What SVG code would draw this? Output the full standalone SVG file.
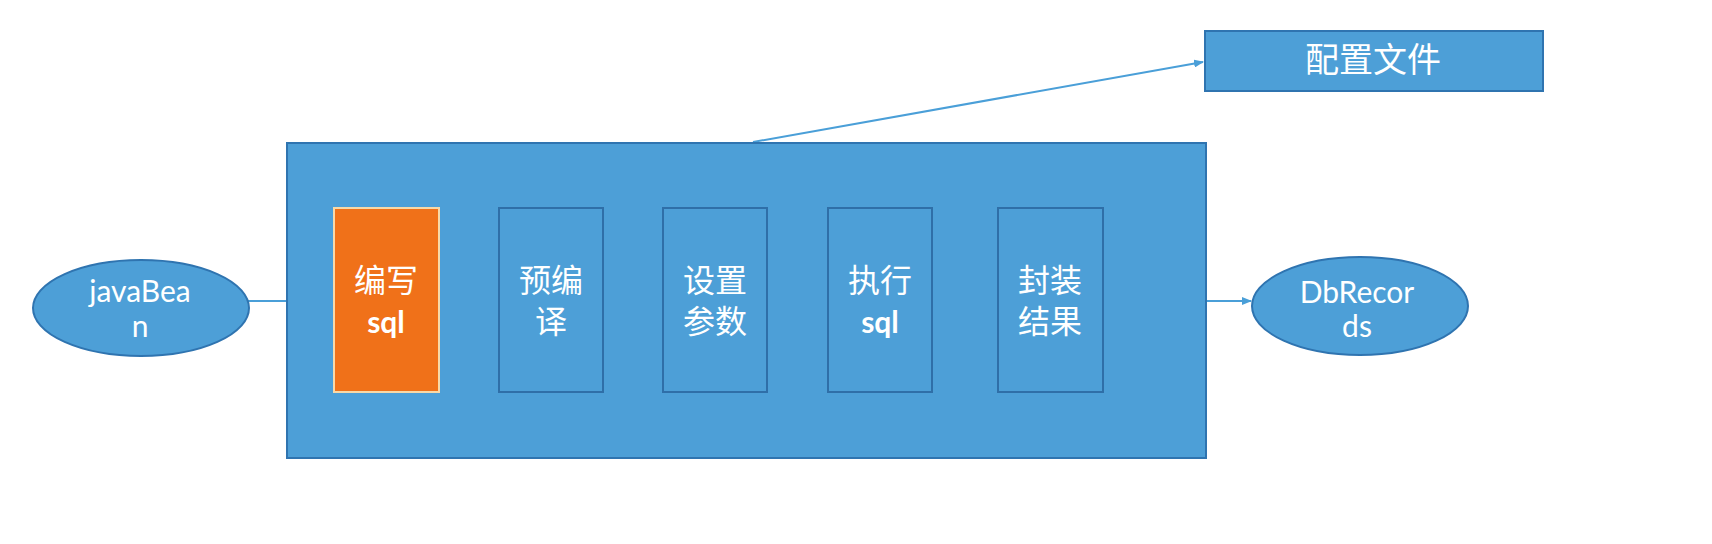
<svg xmlns="http://www.w3.org/2000/svg" width="1712" height="544" viewBox="0 0 1712 544">
<defs>
<marker id="arr" markerWidth="10" markerHeight="8" refX="9" refY="4" orient="auto" markerUnits="userSpaceOnUse">
<path d="M0,0 L10,4 L0,8 Z" fill="#4a9fd8"/>
</marker>
<style>
.blue{fill:#4d9fd7;stroke:#2f74b0;stroke-width:2}
.inner{fill:#4d9fd7;stroke:#2f6fa8;stroke-width:2}
.orange{fill:#f07119;stroke:#f8d9a8;stroke-width:2}
.cjk{font-family:"Noto Sans CJK SC",sans-serif;font-size:32px;fill:#ffffff;text-anchor:middle}
.lat{font-family:"Lato","Open Sans",sans-serif;font-size:30px;fill:#ffffff;text-anchor:middle}
.sql{font-family:"Lato","Open Sans",sans-serif;font-size:30px;font-weight:bold;fill:#ffffff;text-anchor:middle}
.conn{stroke:#4a9fd8;stroke-width:2;fill:none}
</style>
</defs>
<rect width="1712" height="544" fill="#ffffff"/>
<g id="connectors">
<line class="conn" x1="248" y1="301" x2="287" y2="301"/>
<line class="conn" x1="1206" y1="301" x2="1251" y2="301" marker-end="url(#arr)"/>
<line class="conn" x1="753" y1="142" x2="1203" y2="62" marker-end="url(#arr)"/>
</g>
<g id="main">
<rect class="blue" x="287" y="143" width="919" height="315"/>
</g>
<g id="config">
<rect class="blue" x="1205" y="31" width="338" height="60"/>
<text class="cjk" x="1373" y="72" style="font-size:34px">配置文件</text>
</g>
<g id="javabean">
<ellipse class="blue" cx="141" cy="308" rx="108" ry="48"/>
<text class="lat" x="140" y="302">javaBea</text>
<text class="lat" x="140" y="337">n</text>
</g>
<g id="dbrecords">
<ellipse class="blue" cx="1360" cy="306" rx="108" ry="49"/>
<text class="lat" x="1357" y="303">DbRecor</text>
<text class="lat" x="1357" y="337">ds</text>
</g>
<g id="step1">
<rect class="orange" x="334" y="208" width="105" height="184"/>
<text class="cjk" x="386" y="292">编写</text>
<text class="sql" x="386" y="333">sql</text>
</g>
<g id="step2">
<rect class="inner" x="499" y="208" width="104" height="184"/>
<text class="cjk" x="551" y="292">预编</text>
<text class="cjk" x="551" y="333">译</text>
</g>
<g id="step3">
<rect class="inner" x="663" y="208" width="104" height="184"/>
<text class="cjk" x="715" y="292">设置</text>
<text class="cjk" x="715" y="333">参数</text>
</g>
<g id="step4">
<rect class="inner" x="828" y="208" width="104" height="184"/>
<text class="cjk" x="880" y="292">执行</text>
<text class="sql" x="880" y="333">sql</text>
</g>
<g id="step5">
<rect class="inner" x="998" y="208" width="105" height="184"/>
<text class="cjk" x="1050" y="292">封装</text>
<text class="cjk" x="1050" y="333">结果</text>
</g>
</svg>
